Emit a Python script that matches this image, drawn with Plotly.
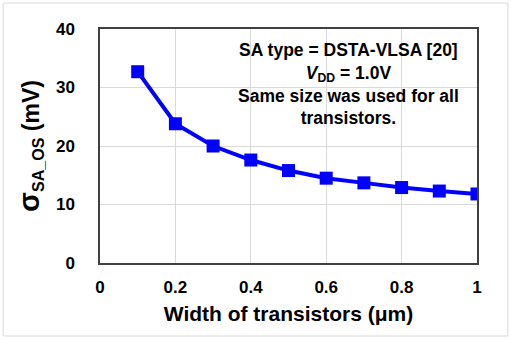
import plotly.graph_objects as go

width_um = [0.1, 0.2, 0.3, 0.4, 0.5, 0.6, 0.7, 0.8, 0.9, 1.0]
sigma_mv = [32.7, 23.8, 20.0, 17.6, 15.8, 14.5, 13.7, 12.9, 12.3, 11.8]

x_ticks = [0, 0.2, 0.4, 0.6, 0.8, 1]
x_ticklabels = ["0", "0.2", "0.4", "0.6", "0.8", "1"]
y_ticks = [0, 10, 20, 30, 40]

note_lines = ["SA type = DSTA-VLSA [20]", "<i>V</i><sub>DD</sub> = 1.0V",
              "Same size was used for all", "transistors."]

FONT = "Liberation Sans, Arial, sans-serif"

fig = go.Figure()
fig.add_trace(go.Scatter(
    x=width_um, y=sigma_mv, mode="lines+markers",
    line=dict(color="#0000ff", width=4),
    marker=dict(symbol="square", size=13, color="#0000ff"),
    showlegend=False,
))

fig.update_layout(
    width=511, height=340,
    margin=dict(l=100, r=34, t=29, b=77),
    paper_bgcolor="white", plot_bgcolor="white",
    font=dict(family=FONT, color="black"),
    xaxis=dict(
        range=[0, 1], tickvals=x_ticks, ticktext=x_ticklabels,
        showgrid=True, gridcolor="#d9d9d9", gridwidth=1,
        showline=True, linecolor="#404040", linewidth=1.5, mirror=True,
        ticks="", zeroline=False, ticklabelstandoff=8,
        tickfont=dict(size=17, family=FONT, color="black", weight="bold"),
        title=dict(text="Width of transistors (μm)",
                   font=dict(size=21, family=FONT, color="black", weight="bold"), standoff=10),
    ),
    yaxis=dict(
        range=[0, 40], tickvals=y_ticks,
        showgrid=True, gridcolor="#d9d9d9", gridwidth=1,
        showline=True, linecolor="#404040", linewidth=1.5, mirror=True,
        ticks="", zeroline=False, ticklabelstandoff=20,
        tickfont=dict(size=17, family=FONT, color="black", weight="bold"),
        title=dict(text="<span style='font-size:29px'>σ</span><sub>SA_OS</sub> (mV)",
                   font=dict(size=23, family=FONT, color="black", weight="bold"), standoff=10),
    ),
    annotations=[dict(
        xref="paper", yref="paper", x=0.658, y=0.96, xanchor="center", yanchor="top",
        showarrow=False, align="center",
        text="<br>".join("<b>" + s + "</b>" for s in note_lines),
        font=dict(size=17.5, family=FONT, color="black"),
    )],
    shapes=[dict(
        type="rect", xref="paper", yref="paper",
        x0=-0.257, x1=1.082, y0=-0.312, y1=1.111,
        line=dict(color="#d9d9d9", width=1), layer="below",
    )],
)

fig.write_html("out.html")
